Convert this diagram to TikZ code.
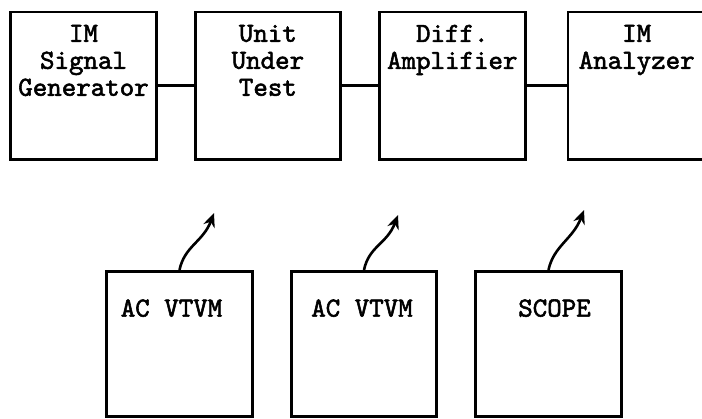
\documentclass[tikz,border=0pt]{standalone}
\usepackage{fontspec}
\newfontfamily\typer{lmmono10-regular.otf}[FakeBold=2]
\usetikzlibrary{positioning}
\usetikzlibrary{arrows.meta}

\begin{document}
\begin{tikzpicture}[x=0.5pt,y=-0.5pt,node distance=18pt,
		unit/.style={draw,line width=1.4pt,minimum width=72.8pt,minimum height=73.6pt,inner sep=0pt},
		meter/.style={unit,minimum height=72.6pt},
		tag/.style={align=center,inner sep=0pt,font=\typer\fontsize{13.8}{13.5}\selectfont},
		probe/.style={-{Stealth[length=7pt,width=6pt]},line width=1.3pt}]
	\clip (0,0) rectangle (702,418);
	% test chain
	\node[unit] (gen) at (83.5,85.5) {};
	\node[unit, right=of gen] (uut) {};
	\node[unit, right=of uut] (amp) {};
	\node[unit, right=20pt of amp] (ana) {};
	\node[tag, below=7pt of gen.north] {IM\\Signal\\Generator};
	\node[tag, below=7pt of uut.north] {Unit\\Under\\Test};
	\node[tag, below=7pt of amp.north] {Diff.\\Amplifier};
	\node[tag, below=7pt of ana.north, xshift=-2pt] {IM\\Analyzer};
	\draw[line width=1.3pt] (gen) -- (uut);
	\draw[line width=1.3pt] (uut) -- (amp);
	\draw[line width=1.3pt] (amp) -- (ana);
	% meters
	\node[meter] (vm1) at (179.5,344) {};
	\node[meter] (vm2) at (364,344) {};
	\node[meter] (sc) at (548.5,344) {};
	\node[tag, below=14.5pt of vm1.north, xshift=-4pt] {AC VTVM};
	\node[tag, below=14.5pt of vm2.north, xshift=-1pt] {AC VTVM};
	\node[tag, below=14.5pt of sc.north, xshift=3pt] {SCOPE};
	\coordinate (pa) at (214,213);
	\coordinate (pb) at (398,215);
	\coordinate (pc) at (584,210);
	\foreach \m/\p in {vm1/pa,vm2/pb,sc/pc}
		\draw[probe] (\m.north) .. controls +(5,-24) and +(-11,29) .. (\p);
\end{tikzpicture}
\end{document}
